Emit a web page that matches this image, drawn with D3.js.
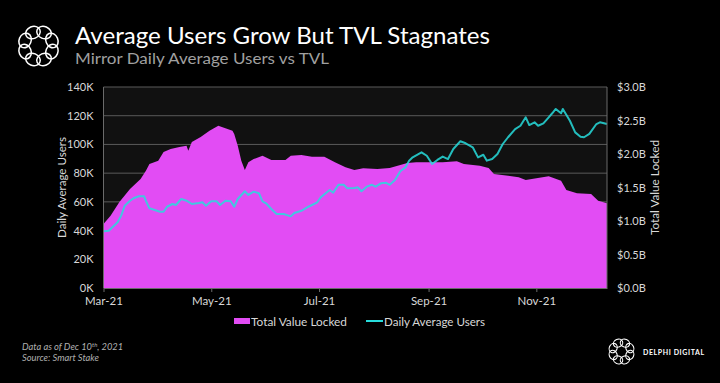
<!DOCTYPE html>
<html>
<head>
<meta charset="utf-8">
<script src="https://cdn.jsdelivr.net/npm/d3@7"></script>
<style>
  html, body { margin: 0; padding: 0; background: #000; }
  svg { display: block; }
</style>
</head>
<body>
<svg id="chart" width="720" height="383"></svg>
<script>
// ---------- DATA ----------
const tvlDates = ["2021-03-01","2021-03-05","2021-03-10","2021-03-16","2021-03-22","2021-03-25","2021-03-27","2021-04-01","2021-04-04","2021-04-08","2021-04-13","2021-04-17","2021-04-18","2021-04-20","2021-04-25","2021-04-30","2021-05-05","2021-05-09","2021-05-13","2021-05-14","2021-05-16","2021-05-18","2021-05-20","2021-05-22","2021-05-25","2021-05-30","2021-06-04","2021-06-12","2021-06-15","2021-06-21","2021-06-27","2021-07-04","2021-07-10","2021-07-16","2021-07-21","2021-07-26","2021-08-03","2021-08-10","2021-08-16","2021-08-20","2021-08-25","2021-09-02","2021-09-09","2021-09-17","2021-09-21","2021-09-30","2021-10-05","2021-10-08","2021-10-16","2021-10-22","2021-10-26","2021-11-01","2021-11-08","2021-11-15","2021-11-18","2021-11-24","2021-12-02","2021-12-06","2021-12-11"];
const tvlValues = [0.955,1.079,1.284,1.478,1.627,1.751,1.851,1.900,2.030,2.075,2.104,2.124,2.049,2.179,2.254,2.348,2.422,2.384,2.348,2.298,2.124,1.900,1.761,1.876,1.925,1.975,1.910,1.910,1.975,1.985,1.960,1.960,1.876,1.801,1.761,1.787,1.776,1.791,1.836,1.866,1.876,1.876,1.876,1.891,1.851,1.825,1.791,1.701,1.676,1.652,1.612,1.637,1.667,1.601,1.463,1.413,1.403,1.303,1.264];

const userDates = ["2021-03-01","2021-03-04","2021-03-06","2021-03-09","2021-03-11","2021-03-13","2021-03-16","2021-03-18","2021-03-21","2021-03-24","2021-03-25","2021-03-27","2021-03-30","2021-04-02","2021-04-04","2021-04-06","2021-04-09","2021-04-11","2021-04-14","2021-04-17","2021-04-20","2021-04-24","2021-04-26","2021-04-28","2021-05-01","2021-05-04","2021-05-06","2021-05-09","2021-05-12","2021-05-14","2021-05-16","2021-05-20","2021-05-22","2021-05-25","2021-05-28","2021-05-30","2021-06-01","2021-06-04","2021-06-07","2021-06-11","2021-06-15","2021-06-17","2021-06-21","2021-06-25","2021-06-30","2021-07-02","2021-07-07","2021-07-09","2021-07-12","2021-07-15","2021-07-17","2021-07-21","2021-07-23","2021-07-25","2021-07-28","2021-07-31","2021-08-02","2021-08-05","2021-08-08","2021-08-10","2021-08-13","2021-08-16","2021-08-19","2021-08-21","2021-08-23","2021-08-28","2021-08-31","2021-09-03","2021-09-06","2021-09-09","2021-09-12","2021-09-15","2021-09-19","2021-09-22","2021-09-26","2021-09-29","2021-10-02","2021-10-04","2021-10-07","2021-10-10","2021-10-13","2021-10-16","2021-10-20","2021-10-23","2021-10-26","2021-10-28","2021-10-31","2021-11-02","2021-11-05","2021-11-08","2021-11-10","2021-11-12","2021-11-15","2021-11-16","2021-11-20","2021-11-23","2021-11-26","2021-11-28","2021-12-01","2021-12-05","2021-12-07","2021-12-11"];
const userValues = [39.5,39.9,42.3,45.8,50.4,57.3,60.8,62.5,63.9,63.9,60.8,55.5,54.3,53.1,53.1,56.6,58.5,57.8,62.0,60.8,58.5,59.2,59.7,57.3,60.4,60.4,57.8,60.8,60.4,56.6,62.0,67.4,64.8,67.1,66.0,60.4,59.0,55.0,51.5,51.5,49.9,52.2,53.8,56.6,59.7,63.2,68.3,66.4,71.9,71.9,69.4,69.7,70.1,67.4,70.6,71.9,70.6,72.9,73.3,71.9,75.2,81.3,84.1,88.7,91.0,94.5,92.1,86.4,89.2,91.5,89.8,96.8,102.2,100.8,98.0,91.0,92.8,88.7,89.8,93.3,100.3,105.0,110.7,113.0,118.9,113.5,115.4,113.0,114.7,118.9,121.7,124.7,121.7,124.7,116.5,108.4,105.4,105.0,107.3,114.2,115.4,114.2];

const leftTicks = [0,20,40,60,80,100,120,140];           // thousands
const rightTicks = [0,0.5,1.0,1.5,2.0,2.5,3.0];          // billions
const xTickDates = ["2021-03-01","2021-05-01","2021-07-01","2021-09-01","2021-11-01"];
const xTickLabels = ["Mar-21","May-21","Jul-21","Sep-21","Nov-21"];

// ---------- LAYOUT ----------
const FONT = "Lato, 'Open Sans', sans-serif";
const plot = {left: 103.5, right: 607, top: 87, bottom: 288};
const parse = d3.timeParse("%Y-%m-%d");
const svg = d3.select("#chart");

svg.append("rect").attr("width", 720).attr("height", 383).attr("fill", "#000");

const x = d3.scaleTime().domain([parse("2021-03-01"), parse("2021-12-11")]).range([plot.left, plot.right]);
const yL = d3.scaleLinear().domain([0, 140]).range([plot.bottom, plot.top]);
const yR = d3.scaleLinear().domain([0, 3.0]).range([plot.bottom, plot.top]);

const tvl = tvlDates.map((d, i) => ({date: parse(d), v: tvlValues[i]}));
const users = userDates.map((d, i) => ({date: parse(d), v: userValues[i]}));

// plot background
svg.append("rect").attr("x", plot.left).attr("y", plot.top)
  .attr("width", plot.right - plot.left).attr("height", plot.bottom - plot.top)
  .attr("fill", "#111111");

// gridlines
svg.append("g").selectAll("line").data(leftTicks.filter(t => t > 0)).join("line")
  .attr("x1", plot.left).attr("x2", plot.right)
  .attr("y1", d => yL(d)).attr("y2", d => yL(d))
  .attr("stroke", "#5a5a5a").attr("stroke-width", 1);

// area
svg.append("path").datum(tvl)
  .attr("d", d3.area().x(d => x(d.date)).y0(plot.bottom).y1(d => yR(d.v)))
  .attr("fill", "#e24cf4");

// line
svg.append("path").datum(users)
  .attr("d", d3.line().x(d => x(d.date)).y(d => yL(d.v)))
  .attr("fill", "none").attr("stroke", "#27dcdc").attr("stroke-opacity", 0.85)
  .attr("stroke-width", 2).attr("stroke-linejoin", "round");

// frame lines
svg.append("line").attr("x1", plot.left).attr("x2", plot.left).attr("y1", plot.top).attr("y2", plot.bottom).attr("stroke", "#6a6a6a");
svg.append("line").attr("x1", plot.right).attr("x2", plot.right).attr("y1", plot.top).attr("y2", plot.bottom).attr("stroke", "#6a6a6a");

// x axis
const xAxis = d3.axisBottom(x).tickValues(xTickDates.map(parse))
  .tickFormat((d, i) => xTickLabels[i]).tickSize(4).tickSizeOuter(0).tickPadding(3);
const gx = svg.append("g").attr("transform", `translate(0,${plot.bottom})`).call(xAxis);
gx.select(".domain").attr("stroke", "#6a6a6a");
gx.selectAll(".tick line").attr("stroke", "#6a6a6a");
gx.selectAll("text").attr("fill", "#d8d8d8").attr("font-family", FONT).attr("font-size", 11.5).attr("dy", "0.85em");

// left axis
const gl = svg.append("g").attr("transform", `translate(${plot.left},0)`)
  .call(d3.axisLeft(yL).tickValues(leftTicks).tickFormat(d => d + "K").tickSize(0).tickPadding(10));
gl.select(".domain").remove();
gl.selectAll("text").attr("fill", "#d8d8d8").attr("font-family", FONT).attr("font-size", 11);

// right axis
const gr = svg.append("g").attr("transform", `translate(${plot.right},0)`)
  .call(d3.axisRight(yR).tickValues(rightTicks).tickFormat(d => "$" + d.toFixed(1) + "B").tickSize(0).tickPadding(10));
gr.select(".domain").remove();
gr.selectAll("text").attr("fill", "#d8d8d8").attr("font-family", FONT).attr("font-size", 11);

// axis titles
const midY = (plot.top + plot.bottom) / 2;
svg.append("text").attr("transform", `translate(66,${midY}) rotate(-90)`)
  .attr("text-anchor", "middle").attr("fill", "#d8d8d8").attr("font-family", FONT).attr("font-size", 12)
  .attr("textLength", 101).attr("lengthAdjust", "spacingAndGlyphs")
  .text("Daily Average Users");
svg.append("text").attr("transform", `translate(659,${midY}) rotate(-90)`)
  .attr("text-anchor", "middle").attr("fill", "#d8d8d8").attr("font-family", FONT).attr("font-size", 12)
  .attr("textLength", 95).attr("lengthAdjust", "spacingAndGlyphs")
  .text("Total Value Locked");

// legend
const lg = svg.append("g");
lg.append("rect").attr("x", 234).attr("y", 318).attr("width", 16).attr("height", 6).attr("fill", "#e24cf4");
lg.append("text").attr("x", 251).attr("y", 325.5).attr("fill", "#d8d8d8").attr("font-family", FONT).attr("font-size", 12)
  .attr("textLength", 96).attr("lengthAdjust", "spacingAndGlyphs").text("Total Value Locked");
lg.append("line").attr("x1", 366).attr("x2", 383).attr("y1", 321).attr("y2", 321).attr("stroke", "#27dcdc").attr("stroke-width", 2);
lg.append("text").attr("x", 384).attr("y", 325.5).attr("fill", "#d8d8d8").attr("font-family", FONT).attr("font-size", 12)
  .attr("textLength", 101).attr("lengthAdjust", "spacingAndGlyphs").text("Daily Average Users");

// title
svg.append("text").attr("x", 75).attr("y", 44).attr("fill", "#ffffff")
  .attr("font-family", FONT).attr("font-size", 23)
  .attr("textLength", 415).attr("lengthAdjust", "spacingAndGlyphs")
  .text("Average Users Grow But TVL Stagnates");
svg.append("text").attr("x", 75).attr("y", 64).attr("fill", "#a0a0a0")
  .attr("font-family", FONT).attr("font-size", 15.5)
  .attr("textLength", 254).attr("lengthAdjust", "spacingAndGlyphs")
  .text("Mirror Daily Average Users vs TVL");

// footer
const ft = svg.append("text").attr("font-family", FONT).attr("font-size", 9.3).attr("font-style", "italic").attr("fill", "#b0b0b0");
ft.append("tspan").attr("x", 22).attr("y", 350).text("Data as of Dec 10");
ft.append("tspan").attr("font-size", 6).attr("dy", -3).text("th");
ft.append("tspan").attr("dy", 3).text(", 2021");
svg.append("text").attr("x", 22).attr("y", 361).attr("font-family", FONT).attr("font-size", 9.3)
  .attr("font-style", "italic").attr("fill", "#b0b0b0").text("Source: Smart Stake");

// logos
function logo(cx, cy, R, rx, ry, sw) {
  const g = svg.append("g");
  d3.range(8).forEach(i => {
    const a = i * Math.PI / 4 + Math.PI / 8;
    const ex = cx + R * Math.cos(a), ey = cy + R * Math.sin(a);
    g.append("ellipse").attr("cx", ex).attr("cy", ey)
      .attr("rx", rx).attr("ry", ry)
      .attr("transform", `rotate(${a * 180 / Math.PI + 90},${ex},${ey})`)
      .attr("fill", "none").attr("stroke", "#fff").attr("stroke-width", sw);
  });
}
logo(38.5, 46, 14.5, 7.5, 6, 1.5);
logo(621.5, 351.5, 9, 4.8, 3.9, 1.1);
svg.append("text").attr("x", 643).attr("y", 355).attr("fill", "#fff").attr("font-family", FONT)
  .attr("font-size", 7).attr("font-weight", "bold").attr("letter-spacing", 0.6).text("DELPHI DIGITAL");
</script>
</body>
</html>
